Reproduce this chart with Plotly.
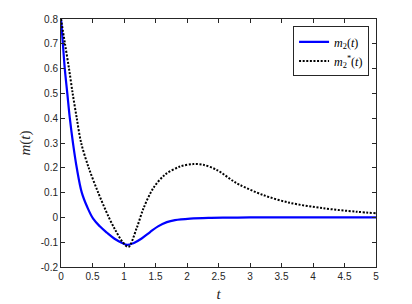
import plotly.graph_objects as go

# m2(t) - solid blue
t_m2 = [0, 0.03, 0.06, 0.10, 0.14, 0.19, 0.25, 0.33, 0.42, 0.51, 0.62, 0.73, 0.85,
        0.97, 1.05, 1.15, 1.28, 1.41, 1.54, 1.68, 1.81, 2.05, 2.34, 2.7, 3.0, 4.0, 5.0]
m2 = [0.8, 0.70, 0.60, 0.50, 0.40, 0.30, 0.20, 0.10, 0.04, -0.005, -0.037, -0.062,
      -0.086, -0.103, -0.111, -0.104, -0.085, -0.060, -0.036, -0.019, -0.011, -0.005,
      -0.002, -0.001, 0.0, 0.0, 0.0]

# m2*(t) - dotted black
t_m2s = [0, 0.063, 0.127, 0.185, 0.25, 0.32, 0.44, 0.59, 0.76, 0.86, 0.98, 1.07,
         1.20, 1.31, 1.465, 1.65, 1.89, 2.10, 2.26, 2.47, 2.73, 2.84, 3.21, 3.63,
         4.16, 4.69, 5.0]
m2s = [0.8, 0.70, 0.60, 0.50, 0.40, 0.30, 0.20, 0.10, 0.0, -0.05, -0.10, -0.119,
       -0.044, 0.037, 0.118, 0.172, 0.205, 0.215, 0.212, 0.192, 0.147, 0.131, 0.090,
       0.059, 0.037, 0.023, 0.017]

x_ticks = [0, 0.5, 1, 1.5, 2, 2.5, 3, 3.5, 4, 4.5, 5]
x_ticktext = ["0", "0.5", "1", "1.5", "2", "2.5", "3", "3.5", "4", "4.5", "5"]
y_ticks = [-0.2, -0.1, 0, 0.1, 0.2, 0.3, 0.4, 0.5, 0.6, 0.7, 0.8]
y_ticktext = ["-0.2", "-0.1", "0", "0.1", "0.2", "0.3", "0.4", "0.5", "0.6", "0.7", "0.8"]

fig = go.Figure()
fig.add_trace(go.Scatter(
    x=t_m2, y=m2, mode="lines",
    line=dict(color="#0000ff", width=2.2, shape="spline", smoothing=1.0),
    name="<i>m</i><sub>2</sub>(<i>t</i>)"))
fig.add_trace(go.Scatter(
    x=t_m2s, y=m2s, mode="lines",
    line=dict(color="#000000", width=2, dash="2px,1.6px", shape="spline", smoothing=0.9),
    name="<i>m</i><sub>2</sub><sup>*</sup>(<i>t</i>)"))

axis_common = dict(
    showline=True, linecolor="#262626", linewidth=1, mirror="ticks",
    ticks="inside", ticklen=4, tickcolor="#262626", tickwidth=1,
    showgrid=False, zeroline=False, automargin=False,
    tickfont=dict(family="Liberation Sans, Arial, sans-serif", size=10, color="#262626"),
)

fig.update_xaxes(range=[0, 5], tickvals=x_ticks, ticktext=x_ticktext,
                 title=dict(text="<i>t</i>", standoff=7,
                            font=dict(family="Liberation Serif, serif", size=15, color="#262626")),
                 **axis_common)
fig.update_yaxes(range=[-0.2, 0.8], tickvals=y_ticks, ticktext=y_ticktext,
                 title=dict(text="<i>m</i>(<i>t</i>)", standoff=6,
                            font=dict(family="Liberation Serif, serif", size=15, color="#262626")),
                 **axis_common)

fig.update_layout(
    width=412, height=304,
    margin=dict(l=53, r=44, t=11, b=45),
    plot_bgcolor="white", paper_bgcolor="white",
    showlegend=True,
    legend=dict(x=0.978, y=0.97, xanchor="right", yanchor="top",
                bordercolor="#262626", borderwidth=1, bgcolor="white",
                font=dict(family="Liberation Serif, serif", size=12, color="#000000"),
                tracegroupgap=0, itemwidth=30),
)

fig.write_html("out.html")
